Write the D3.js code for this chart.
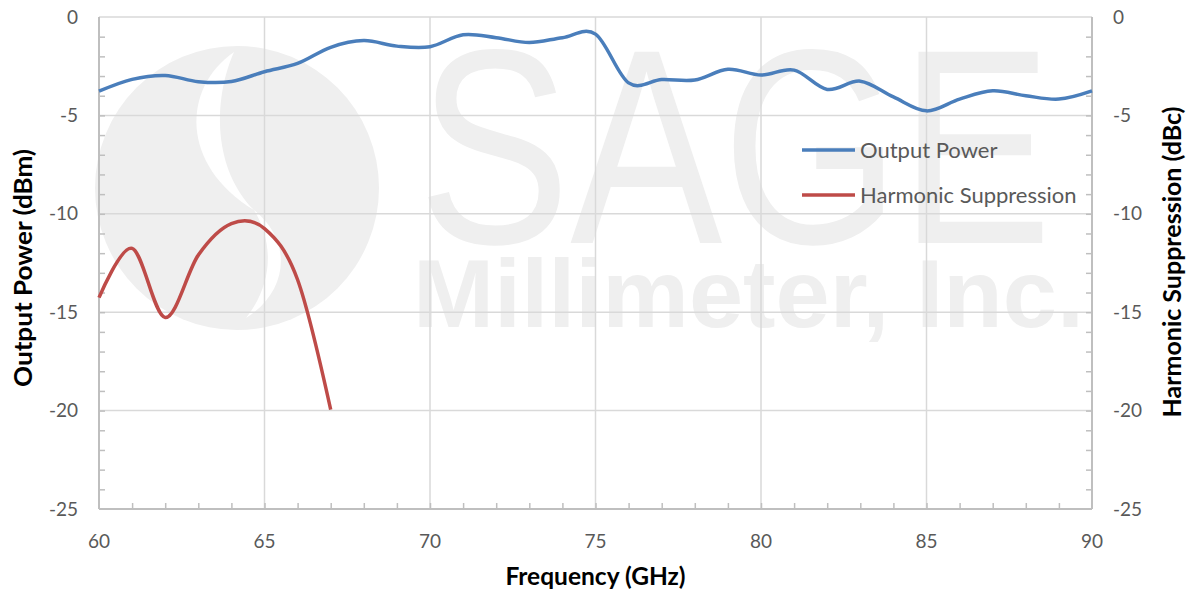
<!DOCTYPE html>
<html>
<head>
<meta charset="utf-8">
<script src="https://cdn.jsdelivr.net/npm/d3@7"></script>
<style>
  body { margin: 0; background: #fff; }
  svg { display: block; font-family: Lato, "Open Sans", sans-serif; }
</style>
</head>
<body>
<script>
'use strict';

// frequency points (GHz)
let freqPower = [60, 61, 62, 63, 64, 65, 66, 67, 68, 69, 70, 71, 72, 73, 74, 75,
  76, 77, 78, 79, 80, 81, 82, 83, 84, 85, 86, 87, 88, 89, 90];
let outputPower = [-3.77, -3.17, -2.97, -3.29, -3.28, -2.78, -2.36, -1.54, -1.2, -1.48, -1.51,
  -0.9, -1.05, -1.3, -1.05, -0.87, -3.35, -3.18, -3.2, -2.66, -2.95,
  -2.7, -3.68, -3.26, -4.06, -4.77, -4.17, -3.75, -4.0, -4.17, -3.75];

let freqHarm = [60, 61, 62, 63, 64, 65, 66, 67];
let harmonic = [-14.26, -11.76, -15.27, -12.1, -10.5, -10.75, -13.35, -19.95];

let xTicks = [60, 65, 70, 75, 80, 85, 90];
let yTicks = [0, -5, -10, -15, -20, -25];
let seriesNames = ['Output Power', 'Harmonic Suppression'];
let seriesColors = ['#4a7ebb', '#be4b48'];

let width = 1187;
let height = 594;
let plot = {left: 99, right: 1092, top: 17, bottom: 509};

let x = d3.scaleLinear().domain([60, 90]).range([plot.left, plot.right]);
let yL = d3.scaleLinear().domain([-25, 0]).range([plot.bottom, plot.top]);
let yR = d3.scaleLinear().domain([-25, 0]).range([plot.bottom, plot.top]);

let svg = d3.select('body').append('svg')
  .attr('width', width)
  .attr('height', height);

// watermark
let wm = svg.append('g').attr('class', 'watermark');
wm.append('circle')
  .attr('cx', 237).attr('cy', 188).attr('r', 142)
  .attr('fill', '#efefef');
wm.append('path')
  .attr('d', 'M234,52 C182,88 180,165 254,210 C214,170 212,102 234,52 Z')
  .attr('fill', '#fff');
wm.append('path')
  .attr('d', 'M254,210 C292,240 290,290 246,318 C272,285 275,245 254,210 Z')
  .attr('fill', '#fff');
wm.append('text')
  .attr('x', 418).attr('y', 243)
  .attr('textLength', 634).attr('lengthAdjust', 'spacingAndGlyphs')
  .attr('font-family', '"Liberation Sans", Arial, sans-serif')
  .attr('font-size', 278)
  .attr('fill', '#efefef')
  .text('SAGE');
wm.append('text')
  .attr('x', 413).attr('y', 327)
  .attr('textLength', 671).attr('lengthAdjust', 'spacingAndGlyphs')
  .attr('font-family', '"Liberation Sans", Arial, sans-serif')
  .attr('font-size', 97).attr('font-weight', 'bold')
  .attr('fill', '#efefef')
  .text('Millimeter, Inc.');

// gridlines
let grid = svg.append('g').attr('class', 'grid')
  .attr('stroke', '#d9d9d9').attr('stroke-width', 1.5);
grid.selectAll('.vg')
  .data(xTicks.filter(d => d > 60 && d < 90))
  .enter().append('line')
    .attr('x1', d => x(d)).attr('x2', d => x(d))
    .attr('y1', plot.top).attr('y2', plot.bottom);
grid.selectAll('.hg')
  .data(yTicks.filter(d => d > -25))
  .enter().append('line')
    .attr('x1', plot.left).attr('x2', plot.right)
    .attr('y1', d => yL(d)).attr('y2', d => yL(d));

// axes (minor tick marks only, labels drawn separately)
let axisColor = '#bfbfbf';
let styleAxis = function(g) {
  g.select('.domain').remove();
  g.selectAll('.tick line').attr('stroke', axisColor).attr('stroke-width', 1.5);
  g.selectAll('.tick text').remove();
};

svg.append('g')
  .attr('transform', 'translate(' + plot.left + ',0)')
  .call(d3.axisRight(yL).tickValues(d3.range(-24, 0, 1)).tickSize(6))
  .call(styleAxis);
svg.append('g')
  .attr('transform', 'translate(' + plot.right + ',0)')
  .call(d3.axisLeft(yR).tickValues(d3.range(-24, 0, 1)).tickSize(6))
  .call(styleAxis);
svg.append('g')
  .attr('transform', 'translate(0,' + plot.bottom + ')')
  .call(d3.axisTop(x).tickValues(d3.range(61, 90, 1)).tickSize(6))
  .call(styleAxis);

let frame = svg.append('g').attr('stroke', axisColor).attr('stroke-width', 2);
frame.append('line').attr('x1', plot.left).attr('x2', plot.left).attr('y1', plot.top).attr('y2', plot.bottom);
frame.append('line').attr('x1', plot.right).attr('x2', plot.right).attr('y1', plot.top).attr('y2', plot.bottom);
frame.append('line').attr('x1', plot.left).attr('x2', plot.right).attr('y1', plot.bottom).attr('y2', plot.bottom);

// tick labels
let labelColor = '#595959';
svg.append('g').selectAll('text')
  .data(yTicks)
  .enter().append('text')
    .attr('x', 78).attr('y', d => yL(d))
    .attr('dy', '0.35em')
    .attr('text-anchor', 'end')
    .attr('font-size', 19).attr('fill', labelColor)
    .text(d => d);
svg.append('g').selectAll('text')
  .data(yTicks)
  .enter().append('text')
    .attr('x', 1113).attr('y', d => yR(d))
    .attr('dy', '0.35em')
    .attr('font-size', 19).attr('fill', labelColor)
    .text(d => d);
svg.append('g').selectAll('text')
  .data(xTicks)
  .enter().append('text')
    .attr('x', d => x(d)).attr('y', 548)
    .attr('text-anchor', 'middle')
    .attr('font-size', 19).attr('fill', labelColor)
    .text(d => d);

// axis titles
svg.append('text')
  .attr('x', (plot.left + plot.right) / 2).attr('y', 585)
  .attr('text-anchor', 'middle')
  .attr('font-size', 24.5).attr('font-weight', 'bold')
  .text('Frequency (GHz)');
svg.append('text')
  .attr('transform', 'translate(32,268) rotate(-90)')
  .attr('text-anchor', 'middle')
  .attr('textLength', 238).attr('lengthAdjust', 'spacingAndGlyphs')
  .attr('font-size', 25).attr('font-weight', 'bold')
  .text('Output Power (dBm)');
svg.append('text')
  .attr('transform', 'translate(1181,262) rotate(-90)')
  .attr('text-anchor', 'middle')
  .attr('font-size', 25).attr('font-weight', 'bold')
  .text('Harmonic Suppression (dBc)');

// series
let line = d3.line().curve(d3.curveCardinal.tension(0));

svg.append('path')
  .datum(freqPower.map((f, i) => [x(f), yL(outputPower[i])]))
  .attr('d', line)
  .attr('fill', 'none')
  .attr('stroke', seriesColors[0])
  .attr('stroke-width', 3.5)
  .attr('stroke-linejoin', 'round');

svg.append('path')
  .datum(freqHarm.map((f, i) => [x(f), yR(harmonic[i])]))
  .attr('d', line)
  .attr('fill', 'none')
  .attr('stroke', seriesColors[1])
  .attr('stroke-width', 3.5)
  .attr('stroke-linejoin', 'round');

// legend
let legend = svg.append('g').selectAll('g')
  .data(seriesNames)
  .enter().append('g')
    .attr('transform', (d, i) => 'translate(802,' + (150 + i * 45) + ')');
legend.append('line')
  .attr('x1', 0).attr('x2', 53)
  .attr('stroke', (d, i) => seriesColors[i])
  .attr('stroke-width', 3.5);
legend.append('text')
  .attr('x', 58).attr('dy', '0.35em')
  .attr('font-size', 22).attr('fill', labelColor)
  .text(d => d);
</script>
</body>
</html>
